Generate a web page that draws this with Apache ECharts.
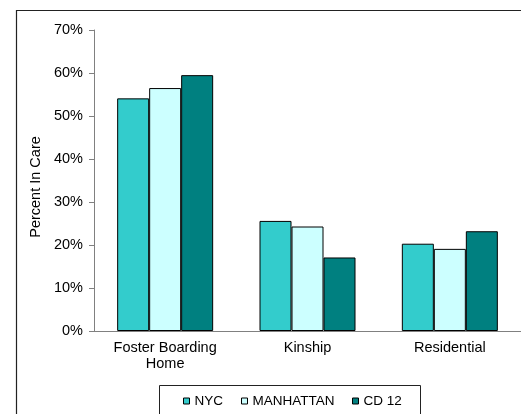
<!DOCTYPE html>
<html>
<head>
<meta charset="utf-8">
<script src="https://cdn.jsdelivr.net/npm/echarts@6/dist/echarts.min.js"></script>
<style>
html,body{margin:0;padding:0;background:#fff;overflow:hidden;}
#chart{width:521px;height:414px;}
</style>
</head>
<body>
<div id="chart"></div>
<script>
const categories = ['Foster Boarding\nHome', 'Kinship', 'Residential'];
const seriesNames = ['NYC', 'MANHATTAN', 'CD 12'];
const nycValues = [54.1, 25.6, 20.3];
const manhattanValues = [56.5, 24.3, 19.1];
const cd12Values = [59.5, 17.1, 23.2];
const yTicks = [0, 10, 20, 30, 40, 50, 60, 70];
const colors = ['#33CCCC', '#CCFFFF', '#008080'];
const allValues = [nycValues, manhattanValues, cd12Values];

const chart = echarts.init(document.getElementById('chart'), null, {renderer: 'canvas'});
const font = 'Liberation Sans, Arial, sans-serif';
const legendLefts = [183, 241, 352];

const option = {
  animation: false,
  backgroundColor: '#fff',
  grid: {left: 94, top: 30, width: 430, height: 301, containLabel: false},
  legend: seriesNames.map((n, i) => ({
    data: [n],
    left: legendLefts[i],
    top: 394,
    padding: 0,
    itemWidth: 6,
    itemHeight: 6,
    icon: 'rect',
    itemStyle: {borderColor: '#000', borderWidth: 1},
    textStyle: {fontFamily: font, fontSize: 13.5, color: '#000'}
  })),
  xAxis: {
    type: 'category',
    data: categories,
    axisLine: {lineStyle: {color: '#808080', width: 1}},
    axisTick: {show: false},
    axisLabel: {fontFamily: font, fontSize: 14.5, color: '#000', margin: 9, lineHeight: 16, interval: 0}
  },
  yAxis: {
    type: 'value',
    min: yTicks[0],
    max: yTicks[yTicks.length - 1],
    interval: 10,
    splitLine: {show: false},
    axisLine: {show: true, lineStyle: {color: '#808080', width: 1}},
    axisTick: {show: true, length: 5, lineStyle: {color: '#808080'}},
    axisLabel: {fontFamily: font, fontSize: 14.5, color: '#000', margin: 11, formatter: '{value}%'}
  },
  series: seriesNames.map((n, i) => ({
    name: n,
    type: 'bar',
    data: allValues[i],
    barWidth: 32,
    barGap: '0%',
    itemStyle: {color: colors[i], borderColor: '#000', borderWidth: 1}
  })),
  graphic: [
    {type: 'polyline', shape: {points: [[16.5, 414], [16.5, 10.5], [521, 10.5]]}, style: {fill: null, stroke: '#222', lineWidth: 1.2}, z: -1},
    {type: 'polyline', shape: {points: [[159.5, 414], [159.5, 385.5], [420.5, 385.5], [420.5, 414]]}, style: {fill: null, stroke: '#222', lineWidth: 1}, z: -1},
    {type: 'text', x: 36, y: 187, rotation: Math.PI / 2,
     style: {text: 'Percent In Care', fontFamily: font, fontSize: 14.5, fill: '#000', textAlign: 'center', textVerticalAlign: 'middle'}}
  ]
};
chart.setOption(option);
</script>
</body>
</html>
